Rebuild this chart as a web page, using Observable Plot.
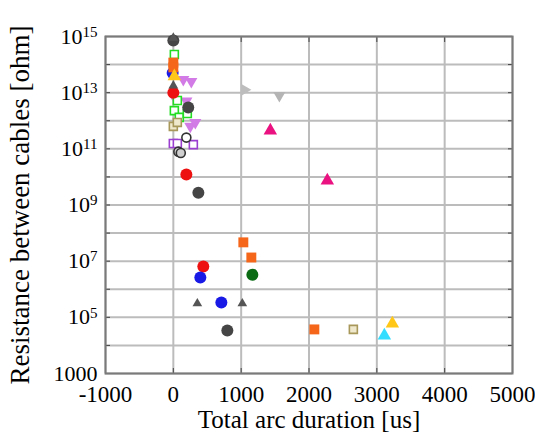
<!DOCTYPE html>
<html>
<head>
<meta charset="utf-8">
<script src="https://cdn.jsdelivr.net/npm/d3@7"></script>
<script src="https://cdn.jsdelivr.net/npm/@observablehq/plot@0.6"></script>
<style>
  html, body { margin: 0; padding: 0; background: #fff; font-family: "Liberation Serif", serif; }
</style>
</head>
<body>
<div id="chart"></div>
<script>
// ---- data ----
const duration = [
  0, 220, 369, 796,            // gray circles
  0, 192, 442,                 // red circles
  -10, 398, 708,               // blue circles
  1165,                        // green circle
  0, 0, 1032, 1150, 2079,      // orange squares
  15, 3229,                    // yellow triangles
  3111,                        // cyan triangle
  1430, 2270,                  // pink triangles
  354, 1017, 0, 0,             // small gray triangles
  147, 265, 0, 192, 250, 324,  // violet down triangles
  1563,                        // light gray down triangle
  1047,                        // light gray side triangle
  15, 59, 15, 88, 206,         // green open squares
  0, 59, 2654,                 // tan open squares
  0, 59, 295,                  // violet open squares
  192,                         // black open circle
  74, 110                      // gray open circles
];
const logResistance = [
  14.86, 12.47, 9.44, 4.53,
  13.0, 10.09, 6.81,
  13.7, 6.42, 5.53,
  6.52,
  14.07, 13.9, 7.67, 7.13, 4.57,
  13.58, 4.78,
  4.35,
  11.65, 9.87,
  5.49, 5.49, 13.25, 14.95,
  13.47, 13.4, 12.9, 12.7, 11.8, 11.94,
  12.9,
  13.1,
  14.36, 12.72, 12.36, 12.12, 12.26,
  11.8, 11.94, 4.57,
  11.19, 11.19, 11.15,
  11.4,
  10.9, 10.85
];
const group = [
  "gc","gc","gc","gc",
  "rc","rc","rc",
  "bc","bc","bc",
  "dg",
  "os","os","os","os","os",
  "yt","yt",
  "ct",
  "pt","pt",
  "st","st","st","st",
  "vd","vd","vd","vd","vd","vd",
  "ld",
  "lr",
  "go","go","go","go","go",
  "to","to","to",
  "vo","vo","vo",
  "bo",
  "ko","ko"
];
const xTicks = [-1000, 0, 1000, 2000, 3000, 4000, 5000];
const yLabelTicks = [1e3, 1e5, 1e7, 1e9, 1e11, 1e13, 1e15];
const yDecades = d3.range(3, 16).map(e => Math.pow(10, e));

const points = duration.map((x, i) => ({x, y: Math.pow(10, logResistance[i]), g: group[i]}));

// ---- styles per series ----
const styles = {
  gc: {symbol: "circle",   fill: "#454545", stroke: "none", r: 6},
  rc: {symbol: "circle",   fill: "#ee1111", stroke: "none", r: 6},
  bc: {symbol: "circle",   fill: "#1a1ae6", stroke: "none", r: 6},
  dg: {symbol: "circle",   fill: "#0b6b14", stroke: "none", r: 6},
  os: {symbol: "square",   fill: "#f5661a", stroke: "none", r: 5.6},
  yt: {symbol: "triangle", fill: "#ffc819", stroke: "none", r: 5},
  ct: {symbol: "triangle", fill: "#33ddff", stroke: "none", r: 5},
  pt: {symbol: "triangle", fill: "#ea1280", stroke: "none", r: 5},
  st: {symbol: "triangle", fill: "#555555", stroke: "none", r: 3.6},
  vd: {symbol: "triangle", fill: "#d27ae6", stroke: "none", r: 4.5, rotate: 180},
  ld: {symbol: "triangle", fill: "#b4b4b4", stroke: "none", r: 4.5, rotate: 180},
  lr: {symbol: "triangle", fill: "#bdbdbd", stroke: "none", r: 4.5, rotate: 90},
  go: {symbol: "square",   fill: "#ffffff", stroke: "#22dd22", r: 4.5, strokeWidth: 1.6},
  to: {symbol: "square",   fill: "#efe8cc", stroke: "#a8985a", r: 4.5, strokeWidth: 1.6},
  vo: {symbol: "square",   fill: "#ffffff", stroke: "#9a3fd0", r: 4.5, strokeWidth: 1.6},
  bo: {symbol: "circle",   fill: "#ffffff", stroke: "#333333", r: 4.5, strokeWidth: 1.6},
  ko: {symbol: "circle",   fill: "#d0d0d0", stroke: "#333333", r: 4.5, strokeWidth: 1.6}
};
const order = ["vd","go","to","vo","bo","ko","gc","rc","bc","dg","os","yt","ct","pt","st","ld","lr"];

const dotMarks = order.map(key => {
  const s = styles[key];
  return Plot.dot(points.filter(p => p.g === key), {
    x: "x", y: "y",
    symbol: s.symbol, fill: s.fill, stroke: s.stroke, r: s.r,
    strokeWidth: s.strokeWidth || 1, rotate: s.rotate || 0
  });
});

const chart = Plot.plot({
  width: 535,
  height: 432,
  marginLeft: 105,
  marginRight: 23,
  marginTop: 36,
  marginBottom: 59,
  style: {color: "#000", background: "#fff"},
  x: {domain: [-1000, 5000]},
  y: {type: "log", domain: [1e3, 1e15]},
  marks: [
    Plot.gridY(yDecades, {stroke: "#bcbcbc", strokeWidth: 2, strokeOpacity: 1}),
    Plot.gridX(xTicks, {stroke: "#bcbcbc", strokeWidth: 2, strokeOpacity: 1}),
    Plot.axisX({ticks: xTicks, tickSize: 0, tickPadding: 12, fontSize: 23,
      tickFormat: d => String(d),
      label: "Total arc duration [us]", labelAnchor: "center", labelArrow: "none", labelOffset: 54}),
    Plot.axisX({ticks: xTicks, anchor: "top", tickSize: -5, text: null, label: null, stroke: "#444"}),
    Plot.axisX({ticks: xTicks, anchor: "bottom", tickSize: -5, text: null, label: null, stroke: "#444"}),
    Plot.axisY({ticks: yLabelTicks, tickSize: 0, tickPadding: 8, fontSize: 22,
      tickFormat: d => d === 1000 ? "1000" : "10^" + Math.round(Math.log10(d)),
      label: "Resistance between cables [ohm]", labelAnchor: "center", labelArrow: "none", labelOffset: 96}),
    Plot.axisY({ticks: yDecades, anchor: "left", tickSize: -5, text: null, label: null, stroke: "#444"}),
    Plot.axisY({ticks: yDecades, anchor: "right", tickSize: -5, text: null, label: null, stroke: "#444"}),
    Plot.frame({stroke: "#7a7a7a", strokeWidth: 2}),
    ...dotMarks
  ]
});

// serif font on every text
chart.style.fontFamily = "Liberation Serif";
chart.querySelectorAll("text").forEach(t => {
  t.setAttribute("font-family", "Liberation Serif");
});

// superscript exponents in y tick labels
chart.querySelectorAll('g[aria-label="y-axis tick label"] text').forEach(t => {
  const s = t.textContent;
  if (s.startsWith("10^")) {
    const exp = s.slice(3);
    while (t.firstChild) t.removeChild(t.firstChild);
    const base = document.createElementNS("http://www.w3.org/2000/svg", "tspan");
    base.textContent = "10";
    const sup = document.createElementNS("http://www.w3.org/2000/svg", "tspan");
    sup.textContent = exp;
    sup.setAttribute("dy", "-0.45em");
    sup.setAttribute("font-size", "15");
    t.appendChild(base);
    t.appendChild(sup);
  }
});
chart.querySelectorAll('g[aria-label="x-axis label"] text').forEach(t => t.setAttribute("font-size", "25"));
chart.querySelectorAll('g[aria-label="y-axis label"] text').forEach(t => t.setAttribute("font-size", "27"));

document.getElementById("chart").appendChild(chart);
</script>
</body>
</html>
